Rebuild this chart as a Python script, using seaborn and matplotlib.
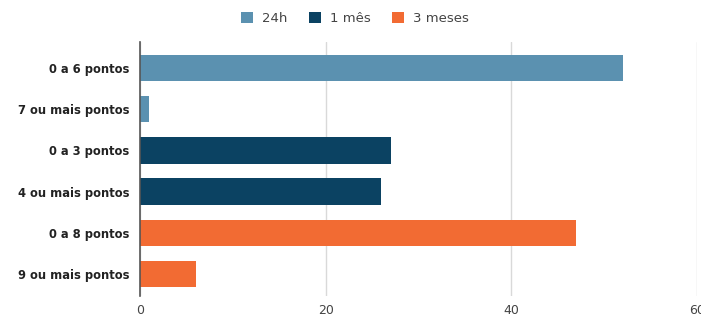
import pandas as pd
import matplotlib.pyplot as plt
import seaborn as sns

# data
categories = ["0 a 6 pontos", "7 ou mais pontos", "0 a 3 pontos",
              "4 ou mais pontos", "0 a 8 pontos", "9 ou mais pontos"]
values = [52, 1, 27, 26, 47, 6]
periods = ["24h", "24h", "1 mês", "1 mês", "3 meses", "3 meses"]
period_order = ["24h", "1 mês", "3 meses"]
colors = ["#5b91b0", "#0b4262", "#f26b33"]
x_ticks = [0, 20, 40, 60]

df = pd.DataFrame({"categoria": categories, "valor": values, "periodo": periods})

sns.set_style("white")
plt.rcParams['font.family'] = ['DejaVu Sans']

fig = plt.figure(figsize=(7.01, 3.21), dpi=100)
ax = fig.add_axes([0.2, 0.078, 0.794, 0.791])

sns.barplot(data=df, y="categoria", x="valor", hue="periodo", hue_order=period_order,
            palette=colors, dodge=False, width=0.64, ax=ax, saturation=1,
            linewidth=0)

ax.set_xlim(0, 60)
ax.set_ylim(5.53, -0.63)
ax.set_xticks(x_ticks)
ax.set_xticklabels([str(t) for t in x_ticks], fontsize=9, color="#444444")
ax.tick_params(axis="y", length=0, pad=8)
ax.tick_params(axis="x", length=0, pad=6)
for lab in ax.get_yticklabels():
    lab.set_fontweight("bold")
    lab.set_fontsize(8.3)
    lab.set_color("#222222")
ax.set_xlabel("")
ax.set_ylabel("")

ax.grid(axis="x", color="#d9d9d9", linewidth=1)
ax.set_axisbelow(True)
for side in ["top", "right", "bottom"]:
    ax.spines[side].set_visible(False)
ax.spines["left"].set_color("#555555")
ax.spines["left"].set_linewidth(1.2)

ax.legend(loc="lower center", bbox_to_anchor=(0.386, 1.02), ncol=3, frameon=False,
          fontsize=9.5, handlelength=0.9, handleheight=0.9, columnspacing=1.6,
          handletextpad=0.7)
for t in ax.get_legend().get_texts():
    t.set_color("#444444")

fig.savefig("out.png", dpi=100)
